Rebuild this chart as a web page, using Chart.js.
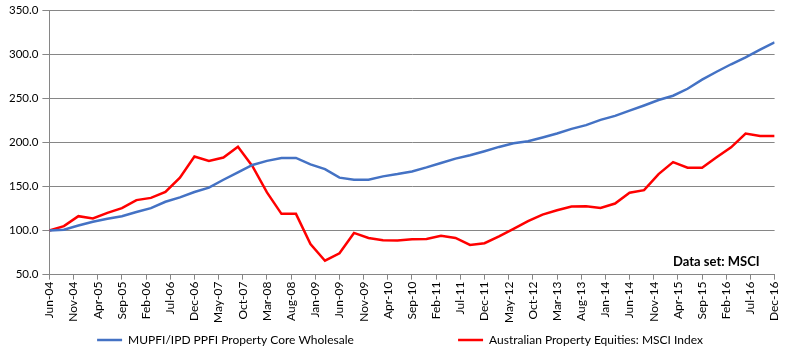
<!DOCTYPE html>
<html>
<head>
<meta charset="utf-8">
<script src="https://cdn.jsdelivr.net/npm/chart.js@4.4.0/dist/chart.umd.min.js"></script>
<style>
  html, body { margin: 0; padding: 0; background: #fff; }
  #wrap { width: 791px; height: 352px; }
</style>
</head>
<body>
<div id="wrap"><canvas id="msci-chart"></canvas></div>
<script>
// quarterly index values, Jun-04 .. Dec-16 (base 100)
var coreWholesale = [
  100, 101, 105.7, 110, 113.3, 116.3, 121, 125.4, 132.6, 137.6,
  143.7, 148.6, 157.6, 166, 174.3, 179, 182.3, 182.3, 175, 169.7,
  160, 157.6, 157.6, 161.4, 164, 167, 171.6, 176.6, 181.5, 185.3,
  189.9, 194.8, 199, 201.2, 205.5, 210, 215.3, 219.5, 225.4, 230,
  236, 241.8, 248, 252.8, 260.7, 271, 280, 288.5, 296.4, 305, 313.3
];
var propertyEquities = [
  100, 105, 116.3, 113.7, 120, 125.4, 134.5, 137, 143.7, 160,
  184, 179, 182.8, 195, 173, 143.2, 118.9, 118.9, 84.8, 65.8,
  74.2, 97.3, 91.6, 89, 88.6, 90.1, 90.5, 94, 91.6, 83.7,
  85.6, 93.5, 101.9, 110.6, 118, 123, 127.2, 127.6, 125.7, 130.6,
  142.8, 145.8, 164, 177.6, 171.3, 171.3, 183, 194.3, 209.9, 207.2, 207.2
];
// axis labels every 5 months
var xTicks = [
  "Jun-04", "Nov-04", "Apr-05", "Sep-05", "Feb-06", "Jul-06", "Dec-06", "May-07",
  "Oct-07", "Mar-08", "Aug-08", "Jan-09", "Jun-09", "Nov-09", "Apr-10", "Sep-10",
  "Feb-11", "Jul-11", "Dec-11", "May-12", "Oct-12", "Mar-13", "Aug-13", "Jan-14",
  "Jun-14", "Nov-14", "Apr-15", "Sep-15", "Feb-16", "Jul-16", "Dec-16"
];
var seriesNames = ["MUPFI/IPD PPFI Property Core Wholesale", "Australian Property Equities: MSCI Index"];
var note = "Data set: MSCI";

// x = months since Jun-04, one point per quarter
function toPoints(arr) {
  return arr.map(function (v, i) {
    return { x: i * 3, y: v };
  });
}

var gridColor = "#868686";
var fontFamily = "Lato, 'Liberation Sans', sans-serif";
Chart.defaults.font.family = fontFamily;
Chart.defaults.font.size = 12;
Chart.defaults.color = "#000";

var notePlugin = {
  id: "note",
  afterLayout: function (chart) {
    // nudge the legend a little to the right, like the original
    chart.legend.left += 8;
    chart.legend.right += 8;
  },
  afterDraw: function (chart) {
    var ctx = chart.ctx;
    var area = chart.chartArea;
    ctx.save();
    ctx.font = "bold 13px " + fontFamily;
    ctx.fillStyle = "#000";
    ctx.textAlign = "right";
    ctx.textBaseline = "middle";
    ctx.fillText(note, area.right - 15, area.bottom - 13);
    ctx.restore();
  }
};

var ctx = document.getElementById("msci-chart");
new Chart(ctx, {
  type: "line",
  data: {
    datasets: [
      {
        label: seriesNames[0],
        data: toPoints(coreWholesale),
        borderColor: "#4472C4",
        backgroundColor: "#4472C4",
        borderWidth: 2.5,
        pointRadius: 0,
        tension: 0
      },
      {
        label: seriesNames[1],
        data: toPoints(propertyEquities),
        borderColor: "#FF0000",
        backgroundColor: "#FF0000",
        borderWidth: 2.5,
        pointRadius: 0,
        tension: 0
      }
    ]
  },
  options: {
    responsive: true,
    maintainAspectRatio: false,
    animation: false,
    layout: { padding: { top: 0, right: 12, left: 5, bottom: -4 } },
    plugins: {
      tooltip: { enabled: false },
      legend: {
        position: "bottom",
        labels: {
          usePointStyle: true,
          pointStyle: "line",
          pointStyleWidth: 25,
          padding: 9,
          generateLabels: function (chart) {
            var items = Chart.defaults.plugins.legend.labels.generateLabels(chart);
            items.forEach(function (it) {
              it.pointStyle = "line";
              it.lineWidth = 2.5;
            });
            // widen the gap between the two entries
            items[0].text = items[0].text + "\u00a0".repeat(31);
            return items;
          }
        }
      }
    },
    scales: {
      x: {
        type: "linear",
        min: 0,
        max: 150,
        grid: {
          drawOnChartArea: false,
          drawTicks: true,
          tickLength: 5,
          color: gridColor
        },
        border: { color: gridColor },
        ticks: {
          stepSize: 5,
          autoSkip: false,
          minRotation: 90,
          maxRotation: 90,
          padding: 2,
          callback: function (value) {
            return xTicks[value / 5];
          }
        }
      },
      y: {
        min: 50,
        max: 350,
        grid: { color: gridColor, drawTicks: true, tickLength: 7 },
        border: { color: gridColor },
        afterFit: function (scale) {
          // tick padding should only push labels sideways
          scale.paddingTop = 10;
          scale.paddingBottom = 8;
        },
        ticks: {
          stepSize: 50,
          padding: 4,
          font: { size: 11.5 },
          callback: function (value) {
            return value.toFixed(1);
          }
        }
      }
    }
  },
  plugins: [notePlugin]
});
</script>
</body>
</html>
